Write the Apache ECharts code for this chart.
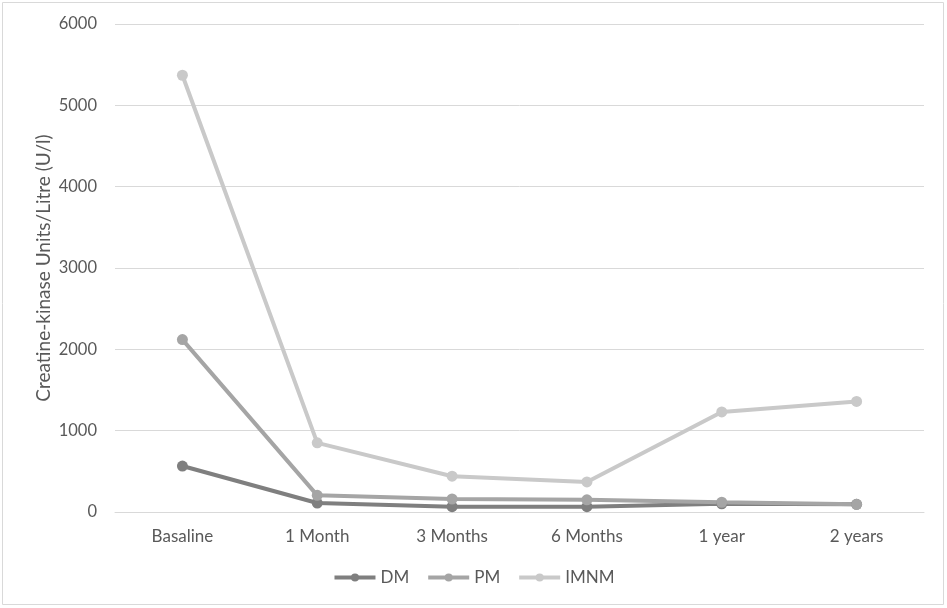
<!DOCTYPE html>
<html><head><meta charset="utf-8">
<script src="https://cdn.jsdelivr.net/npm/echarts@6/dist/echarts.min.js"></script>
<style>html,body{margin:0;padding:0;background:#fff}#c{width:947px;height:608px}</style>
</head><body><div id="c"></div>
<script>
const categories = ["Basaline","1 Month","3 Months","6 Months","1 year","2 years"];
const dm = [565, 110, 65, 65, 100, 95];
const pm = [2120, 205, 160, 150, 120, 95];
const imnm = [5370, 850, 440, 370, 1230, 1360];
const yTicks = [0, 1000, 2000, 3000, 4000, 5000, 6000];
const font = "Lato, 'Open Sans', sans-serif";
const chart = echarts.init(document.getElementById('c'));
function s(name, data, color){
  return {name, type:'line', data, symbol:'circle', symbolSize:11,
    lineStyle:{width:4,color}, itemStyle:{color}, z: 3};
}
chart.setOption({
  animation:false,
  graphic:[{type:'rect',shape:{x:2.5,y:2.5,width:941,height:602},style:{fill:'none',stroke:'#d9d9d9',lineWidth:1}}],
  grid:{left:115,right:23,top:24,bottom:96},
  legend:{bottom:17,left:'center',itemWidth:41,itemHeight:10,itemGap:17,
    lineStyle:{width:4},
    textStyle:{color:'#595959',fontSize:17,fontFamily:font},
    data:['DM','PM','IMNM']},
  xAxis:{type:'category',data:categories,boundaryGap:true,
    axisLine:{show:true,lineStyle:{color:'#d9d9d9',width:1}},axisTick:{show:false},
    axisLabel:{color:'#595959',fontSize:17,fontFamily:font,margin:16}},
  yAxis:{type:'value',min:yTicks[0],max:yTicks[yTicks.length-1],interval:1000,
    name:'Creatine-kinase Units/Litre (U/l)',nameLocation:'middle',nameGap:62,nameMoveOverlap:false,
    nameTextStyle:{color:'#595959',fontSize:19,fontFamily:font},
    axisLine:{show:false},axisTick:{show:false},
    axisLabel:{color:'#595959',fontSize:16.5,fontFamily:font,margin:18,formatter:v=>String(v)},
    splitLine:{lineStyle:{color:'#d9d9d9',width:1}}},
  series:[s('DM',dm,'#7f7f7f'), s('PM',pm,'#a5a5a5'), s('IMNM',imnm,'#c9c9c9')]
});
</script></body></html>
